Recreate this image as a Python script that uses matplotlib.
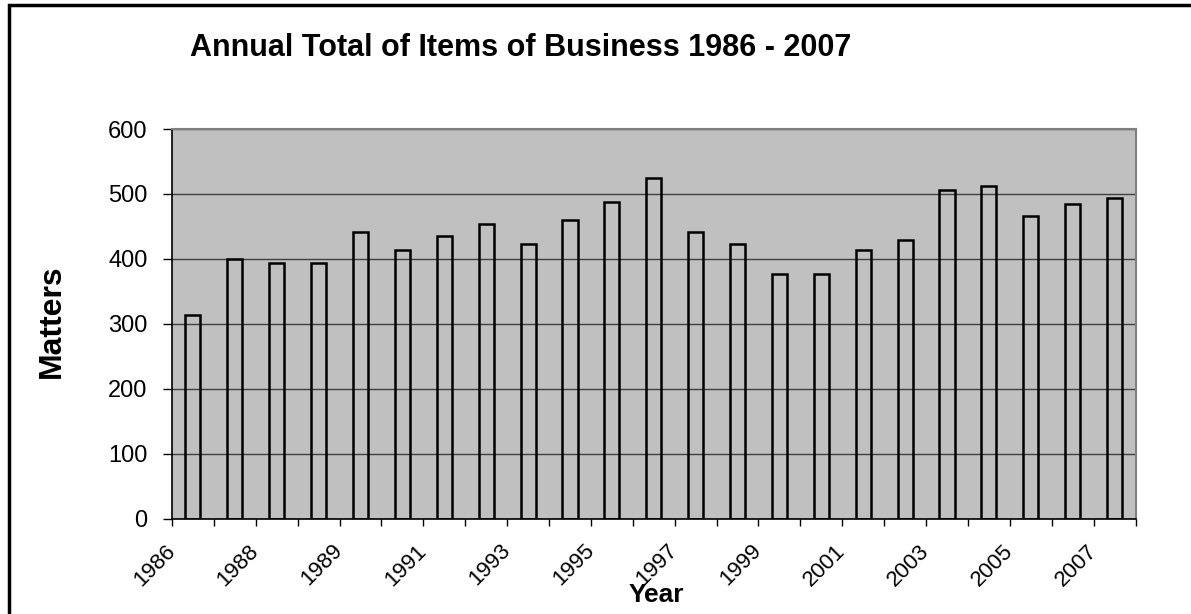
import matplotlib.pyplot as plt
import matplotlib.patches as mpatches
import numpy as np

plt.rcParams['font.family'] = ['Liberation Sans', 'DejaVu Sans']

# data
years = ["1986", "1988", "1989", "1991", "1993", "1995",
         "1997", "1999", "2001", "2003", "2005", "2007"]
matters = [314, 400, 394, 394, 441, 413, 435, 453, 423, 460, 488, 525,
           441, 423, 376, 376, 413, 429, 506, 512, 466, 485, 493]

W, H = 1191, 614
fig = plt.figure(figsize=(W / 100, H / 100), dpi=100)
ax = fig.add_axes([172 / W, 1 - 518.5 / H, 963.5 / W, 389.5 / H])

x = np.arange(len(matters))
ax.set_facecolor('#C0C0C0')
ax.bar(x, matters, width=0.36, facecolor='none', edgecolor='black',
       linewidth=1.8, zorder=3)

ax.set_xlim(-0.5, len(matters) - 0.5)
ax.set_ylim(0, 600)
ax.set_yticks(range(0, 601, 100))
ax.yaxis.grid(True, color='#404040', linewidth=1.0, zorder=1)
ax.set_axisbelow(True)

# ticks sit on category boundaries, labelled every other one
bounds = np.arange(len(matters) + 1) - 0.5
labels = [years[i // 2] if i % 2 == 0 else "" for i in range(len(bounds))]
ax.set_xticks(bounds)
ax.set_xticklabels(labels, rotation=45, ha='right', va='center',
                   rotation_mode='anchor', fontsize=16)
ax.tick_params(axis='x', direction='out', length=5, width=1, pad=16)
ax.tick_params(axis='y', direction='out', length=6.5, width=1, labelsize=17, pad=11)

for side in ['top', 'right']:
    ax.spines[side].set_color('#808080')
    ax.spines[side].set_linewidth(1.5)
for side in ['left', 'bottom']:
    ax.spines[side].set_color('black')
    ax.spines[side].set_linewidth(1.2)

fig.text(52 / W, 1 - 321 / H, "Matters", fontsize=23, fontweight='bold',
         rotation=90, ha='center', va='center')
fig.text(656 / W, 1 - 595 / H, "Year", fontsize=19, fontweight='bold',
         ha='center', va='center')
fig.text(190 / W, 1 - 48 / H, "Annual Total of Items of Business 1986 - 2007",
         fontsize=22, fontweight='bold', ha='left', va='center')

# outer chart frame, clipped on the right and bottom
frame = mpatches.Rectangle((9 / W, -0.1), 1.2, 1 - 5 / H + 0.1,
                           transform=fig.transFigure, fill=False,
                           edgecolor='black', linewidth=2.5)
fig.patches.append(frame)

fig.savefig("out.png", dpi=100)
